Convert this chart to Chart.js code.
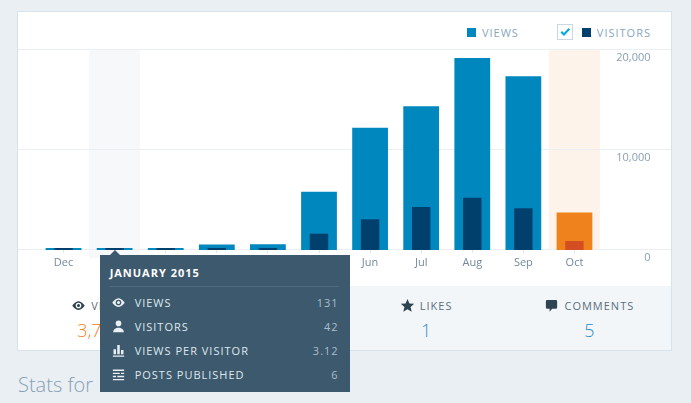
<!DOCTYPE html>
<html>
<head>
	<meta charset="utf-8"/>
	<title>Stats</title>
	<script src="https://cdn.jsdelivr.net/npm/chart.js"></script>
	<style>
		body { margin:0; width:691px; height:403px; overflow:hidden; position:relative; background:#e9eff3; font-family:'Open Sans',sans-serif; }
		#card { position:absolute; left:18px; top:12px; width:653px; height:338px; background:#fff; box-shadow:0 0 0 1px rgba(200,215,225,.55); }
		#legend { position:absolute; right:20px; top:12px; height:16px; display:flex; align-items:center; font-size:11px; letter-spacing:1px; color:#87a6bc; }
		#legend .sw { width:9px; height:9px; margin-right:6px; }
		#legend .chk { width:14px; height:14px; border:1px solid #c8d7e1; margin:0 9px 0 38px; display:flex; align-items:center; justify-content:center; }
		#chartBox { position:absolute; left:0; top:28px; width:653px; height:236px; }
		#tabs { position:absolute; left:0; top:274px; width:653px; height:64px; display:flex; }
		.tab { flex:1; background:#f3f6f8; text-align:center; }
		.tab.sel { background:#fff; }
		.tab .lbl { margin-top:11px; height:16px; display:flex; justify-content:center; align-items:center; font-size:11px; letter-spacing:1px; color:#5a6f80; }
		.tab .lbl svg { width:15px; height:15px; margin-right:5px; fill:#2e4453; }
		.tab .val { margin-top:6px; font-size:18px; line-height:22px; font-weight:300; color:#2e8bc6; }
		.tab.sel .val { color:#f0821e; }
		#statsFor { position:absolute; left:18px; top:371px; margin:0; font-size:20px; line-height:27px; font-weight:300; color:#87a0b3; }
		#tip { position:absolute; display:none; width:250px; height:137px; box-sizing:border-box; padding:0 11px 0 10px; background:#3d596d; font-size:11px; letter-spacing:1px; color:#dfe8ee; }
		#tip:before { content:''; position:absolute; left:10px; top:-5px; border-left:5px solid transparent; border-right:5px solid transparent; border-bottom:5px solid #3d596d; }
		#tip .ttl { height:31px; line-height:36px; border-bottom:1px solid #4f6b80; font-weight:700; letter-spacing:1px; color:#fff; }
		#tip .row { height:24px; display:flex; align-items:center; }
		#tip .ttl + .row { margin-top:3px; }
		#tip .row svg { width:15px; height:15px; margin:0 9px 0 1px; fill:#e9eff3; flex:none; }
		#tip .row .n { margin-left:auto; color:#a8bece; }
	</style>
</head>
<body>
	<div id="card">
		<div id="legend"></div>
		<div id="chartBox"><canvas id="statsChart"></canvas></div>
		<div id="tabs"></div>
	</div>
	<h2 id="statsFor">Stats for</h2>
	<div id="tip"></div>
	<script>
	// months shown on the chart, Dec 2014 .. Oct 2015
	const months = ['Dec','Jan','Feb','Mar','Apr','May','Jun','Jul','Aug','Sep','Oct'];
	const monthTitles = ['December 2014','January 2015','February 2015','March 2015','April 2015','May 2015','June 2015','July 2015','August 2015','September 2015','October 2015'];
	const views = [160, 131, 190, 560, 580, 5830, 12230, 14370, 19200, 17370, 3760];
	const visitors = [60, 42, 70, 150, 160, 1630, 3070, 4300, 5220, 4170, 900];
	const postsPublished = [null, 6, null, null, null, null, null, null, null, null, null];
	const yTicks = [0, 10000, 20000];
	const likes = 1;
	const comments = 5;
	const currentIdx = 10;   // Oct, period in progress
	const hoverIdx = 1;      // Jan, tooltip open

	const icons = {
		eye:'<svg viewBox="0 0 24 24"><path d="M12 5C6.5 5 2 12 2 12s4.5 7 10 7 10-7 10-7-4.5-7-10-7zm0 11.5a4.5 4.5 0 110-9 4.5 4.5 0 010 9zm0-7a2.5 2.5 0 100 5 2.5 2.5 0 000-5z"/></svg>',
		person:'<svg viewBox="0 0 24 24"><circle cx="12" cy="7" r="4.5"/><path d="M3.5 21c0-4.5 4-7 8.5-7s8.5 2.5 8.5 7z"/></svg>',
		bars:'<svg viewBox="0 0 24 24"><path d="M3 20h18v2H3zM4 18h4V10H4zm6 0h4V3h-4zm6 0h4v-7h-4z"/></svg>',
		posts:'<svg viewBox="0 0 24 24"><path d="M3 4h18v2.2H3zm0 5h11v2.2H3zm13 0h5v2.2h-5zM3 14h5v2.2H3zm7 0h11v2.2H10zM3 19h18v2.2H3z"/></svg>',
		star:'<svg viewBox="0 0 24 24"><path d="M12 1.5l3.1 7.2 7.6.6-5.8 5 1.8 7.6L12 17.8l-6.7 4.1 1.8-7.6-5.8-5 7.6-.6z"/></svg>',
		comment:'<svg viewBox="0 0 24 24"><path d="M5 3h14a2 2 0 012 2v10a2 2 0 01-2 2h-6l-4 5v-5H5a2 2 0 01-2-2V5a2 2 0 012-2z"/></svg>'
	};

	const blue = '#0087be', navy = '#01406c', orange = '#f0821e', rust = '#d54e21';
	const fmt = v => v.toLocaleString('en-US');

	// legend
	document.getElementById('legend').innerHTML =
		'<span class="sw" style="background:'+blue+'"></span>VIEWS' +
		'<span class="chk"><svg width="12" height="12" viewBox="0 0 24 24"><path d="M3 13l3-3 4 4 9-10 3 3-12 13z" fill="#00aadc"/></svg></span>' +
		'<span class="sw" style="background:'+navy+'"></span>VISITORS';

	// summary tabs under the chart
	const tabs = [
		{icon:icons.eye, label:'VIEWS', value:fmt(views[currentIdx]), sel:true},
		{icon:icons.person, label:'VISITORS', value:fmt(visitors[currentIdx])},
		{icon:icons.star, label:'LIKES', value:fmt(likes)},
		{icon:icons.comment, label:'COMMENTS', value:fmt(comments)}
	];
	document.getElementById('tabs').innerHTML = tabs.map(t =>
		'<div class="tab'+(t.sel?' sel':'')+'"><div class="lbl">'+t.icon+t.label+'</div><div class="val">'+t.value+'</div></div>').join('');

	// column highlights + full width gridlines
	const backdrop = {
		id:'backdrop',
		beforeDraw(chart){
			const {ctx, chartArea, scales:{x, y}} = chart;
			const w = x.getPixelForValue(1) - x.getPixelForValue(0);
			ctx.save();
			ctx.fillStyle = '#f6f8fa';
			ctx.fillRect(x.getPixelForValue(hoverIdx) - w/2, chartArea.top, w, chartArea.bottom - chartArea.top + 8);
			ctx.fillStyle = '#fdf3ea';
			ctx.fillRect(x.getPixelForValue(currentIdx) - w/2, chartArea.top, w, chartArea.bottom - chartArea.top);
			ctx.strokeStyle = '#e9eff3';
			ctx.lineWidth = 1;
			yTicks.forEach(v => {
				const py = Math.round(y.getPixelForValue(v)) - 0.5;
				ctx.beginPath();
				ctx.moveTo(0, py);
				ctx.lineTo(chart.width, py);
				ctx.stroke();
			});
			ctx.restore();
		}
	};

	function showTip(context){
		const tip = document.getElementById('tip');
		const t = context.tooltip;
		if (!t.dataPoints || !t.dataPoints.length) { tip.style.display = 'none'; return; }
		const i = t.dataPoints[0].dataIndex;
		const chart = context.chart;
		const r = chart.canvas.getBoundingClientRect();
		const rows = [
			[icons.eye, 'VIEWS', fmt(views[i])],
			[icons.person, 'VISITORS', fmt(visitors[i])],
			[icons.bars, 'VIEWS PER VISITOR', (views[i] / visitors[i]).toFixed(2)],
			[icons.posts, 'POSTS PUBLISHED', postsPublished[i] == null ? '-' : postsPublished[i]]
		];
		tip.innerHTML = '<div class="ttl">'+monthTitles[i].toUpperCase()+'</div>' +
			rows.map(rw => '<div class="row">'+rw[0]+'<span>'+rw[1]+'</span><span class="n">'+rw[2]+'</span></div>').join('');
		tip.style.left = (r.left + chart.scales.x.getPixelForValue(i) - 15) + 'px';
		tip.style.top = (r.top + chart.scales.y.getPixelForValue(0) + 5) + 'px';
		tip.style.display = 'block';
	}

	Chart.defaults.font.family = "'Open Sans', sans-serif";
	Chart.defaults.font.size = 11;

	const chart = new Chart(document.getElementById('statsChart'), {
		type:'bar',
		data:{
			labels:months,
			datasets:[{
				label:'Views',
				data:views,
				backgroundColor:months.map((m, i) => i === currentIdx ? orange : blue),
				barPercentage:0.7,
				categoryPercentage:1,
				grouped:false,
				minBarLength:2,
				order:1
			},{
				label:'Visitors',
				data:visitors,
				backgroundColor:months.map((m, i) => i === currentIdx ? rust : navy),
				barPercentage:0.36,
				categoryPercentage:1,
				grouped:false,
				minBarLength:2,
				order:0
			}]
		},
		options:{
			responsive:true,
			maintainAspectRatio:false,
			animation:false,
			layout:{ padding:{ top:10, left:20, right:20.5, bottom:6 } },
			plugins:{
				legend:{ display:false },
				tooltip:{ enabled:false, external:showTip }
			},
			scales:{
				x:{
					grid:{ drawOnChartArea:false, offset:false, tickLength:3, color:'#dfe7ed' },
					border:{ display:false },
					ticks:{ padding:3, color:'#73889a' },
					afterFit: s => { s.height = 20; s.paddingLeft = 0; s.paddingRight = 0; }
				},
				y:{
					position:'right',
					min:yTicks[0],
					max:yTicks[yTicks.length - 1],
					grid:{ display:false, drawTicks:false },
					border:{ display:false },
					afterBuildTicks: axis => { axis.ticks = yTicks.map(v => ({value:v})); },
					afterFit: s => { s.width = 50.5; s.paddingTop = 0; s.paddingBottom = 0; },
					ticks:{ padding:16, crossAlign:'far', labelOffset:8, color:'#8aa0b2', callback:v => fmt(v) }
				}
			}
		},
		plugins:[backdrop]
	});

	chart.tooltip.setActiveElements([{datasetIndex:0, index:hoverIdx}], {x:0, y:0});
	chart.update();
	</script>
</body>
</html>
